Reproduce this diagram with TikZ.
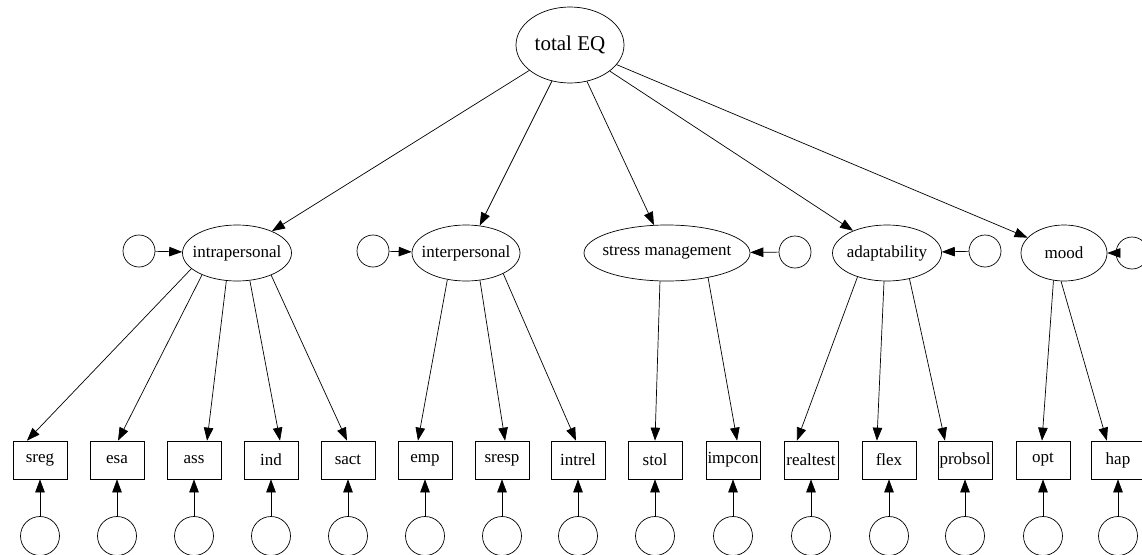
\documentclass[tikz,border=0pt]{standalone}
\usepackage{fontspec}
\setmainfont{Liberation Serif}
\usetikzlibrary{shapes.geometric,arrows.meta}
\begin{document}
\begin{tikzpicture}[x=1pt,y=-1pt,
  every node/.style={font=\fontsize{17}{19}\selectfont, line width=0.7pt},
  every label/.style={font=\fontsize{17}{19}\selectfont, inner sep=0pt},
  lat/.style={ellipse, draw, inner sep=0pt, minimum height=56pt},
  obs/.style={rectangle, draw, minimum width=54pt, minimum height=38pt, inner sep=1.5pt},
  err/.style={circle, draw, minimum size=32pt, inner sep=0pt},
  ber/.style={circle, draw, minimum size=39pt, inner sep=0pt},
  arr/.style={-{Triangle[length=13pt,width=9.5pt]}, line width=0.7pt}]
\useasboundingbox (0,0) rectangle (1142,554);
% top
\node[lat, minimum width=108pt, minimum height=76pt,
      label={[font=\fontsize{21}{24}\selectfont]center:total EQ}] (tot) at (570,45) {};
% level 2
\node[lat, minimum width=109pt, label={center:intrapersonal}] (intra) at (237,253) {};
\node[lat, minimum width=108pt, label={center:interpersonal}] (inter) at (466,253) {};
\node[lat, minimum width=166pt, label={center:stress management}] (stress) at (667,253) {};
\node[lat, minimum width=109pt, label={center:adaptability}] (adapt) at (887,253) {};
\node[lat, minimum width=86pt, label={center:mood}] (mood) at (1064,253) {};
% level-2 errors
\node[err] (eintra) at (139,251) {};
\node[err] (einter) at (373,251) {};
\node[err] (estress) at (795,252) {};
\node[err] (eadapt) at (985,251) {};
\node[err] (emood) at (1132,253) {};
% observed
\foreach \n/\x in {sreg/40, esa/117, ass/194, ind/271, sact/348, emp/425, sresp/502, intrel/578, stol/655, impcon/733, realtest/811, flex/889, probsol/965, opt/1043, hap/1118}{
  \node[obs] (\n) at (\x,460) {\n};
  \node[ber] (e\n) at (\x,536) {};
  \draw[arr] (e\n) -- (\n);
}
% edges from total
\foreach \t in {intra, inter, stress, adapt, mood}{
  \draw[arr] (tot) -- (\t);
}
\draw[arr] (eintra) -- (intra);
\draw[arr] (einter) -- (inter);
\draw[arr] (estress) -- (stress);
\draw[arr] (eadapt) -- (adapt);
\draw[arr] (emood) -- (mood);
% loadings (start angle on latent / end angle on indicator)
\foreach \l/\o/\a/\b in {
  intra/sreg/199/124, intra/esa/212/87, intra/ass/249/56, intra/ind/295/65, intra/sact/327/93,
  inter/emp/235/110, inter/sresp/297/81, inter/intrel/331/96,
  stress/stol/256/90, stress/impcon/329/78,
  adapt/realtest/219/126, adapt/flex/264/122, adapt/probsol/311/136,
  mood/opt/249/93, mood/hap/264/120}{
  \draw[arr] (\l.\a) -- (\o.\b);
}
\end{tikzpicture}
\end{document}
